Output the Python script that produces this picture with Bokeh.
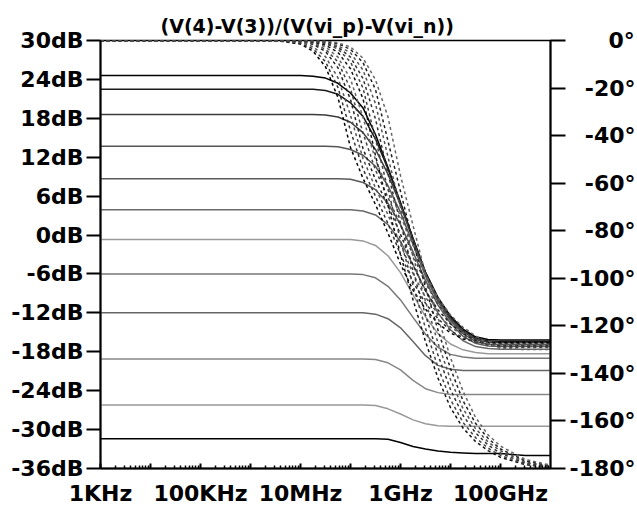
from bokeh.plotting import figure
from bokeh.models import Range1d, LinearAxis, FixedTicker, PrintfTickFormatter
from bokeh.embed import file_html
from bokeh.resources import INLINE

# ---------------- data ----------------
TITLE = "(V(4)-V(3))/(V(vi_p)-V(vi_n))"

FREQ_HZ = [1e3, 3.16e6, 1.0e7, 1.78e7, 3.16e7, 5.62e7, 1.0e8, 1.78e8, 3.16e8,
           5.62e8, 1.0e9, 1.78e9, 3.16e9, 5.62e9, 1.0e10, 1.78e10, 3.16e10,
           5.62e10, 1.0e11, 3.16e11, 1.0e12]

# magnitude traces (dB)
MAG_1 = [24.6, 24.6, 24.6, 24.5, 24.2, 23.4, 21.9, 19.6, 15.5, 10.4, 5.0, -0.5, -5.7, -9.6, -12.5, -14.5, -15.7, -16.1, -16.2, -16.2, -16.2]
MAG_2 = [22.5, 22.5, 22.5, 22.5, 22.3, 21.7, 20.4, 18.3, 14.8, 10.2, 4.9, -0.6, -5.8, -9.8, -12.7, -14.7, -15.9, -16.3, -16.4, -16.4, -16.4]
MAG_3 = [18.6, 18.6, 18.6, 18.6, 18.5, 18.2, 17.4, 15.8, 13.2, 9.4, 4.6, -0.8, -6.0, -10.0, -12.9, -14.9, -16.1, -16.5, -16.6, -16.6, -16.6]
MAG_4 = [13.7, 13.7, 13.7, 13.7, 13.7, 13.6, 13.2, 12.3, 10.6, 7.6, 3.5, -1.4, -6.3, -10.3, -13.2, -15.2, -16.4, -16.8, -16.9, -16.9, -16.9]
MAG_5 = [8.7, 8.7, 8.7, 8.7, 8.7, 8.7, 8.6, 8.1, 7.0, 4.9, 1.6, -2.6, -7.0, -10.8, -13.6, -15.6, -16.7, -17.1, -17.2, -17.2, -17.2]
MAG_6 = [3.9, 3.9, 3.9, 3.9, 3.9, 3.9, 3.9, 3.7, 3.1, 1.6, -1.0, -4.6, -8.5, -12.0, -14.6, -16.3, -17.2, -17.5, -17.6, -17.6, -17.6]
MAG_7 = [-0.7, -0.7, -0.7, -0.7, -0.7, -0.7, -0.7, -0.9, -1.6, -3.2, -5.8, -9.2, -12.6, -15.2, -16.8, -17.7, -18.1, -18.3, -18.3, -18.3, -18.3]
MAG_8 = [-6.0, -6.0, -6.0, -6.0, -6.0, -6.0, -6.0, -6.1, -6.6, -7.9, -10.0, -12.7, -15.3, -17.3, -18.4, -18.8, -19.0, -19.0, -19.0, -19.0, -19.0]
MAG_9 = [-12.0, -12.0, -12.0, -12.0, -12.0, -12.0, -12.0, -12.0, -12.2, -12.9, -14.3, -16.4, -18.6, -20.1, -20.7, -20.9, -20.9, -20.9, -20.9, -20.9, -20.9]
MAG_10 = [-19.1, -19.1, -19.1, -19.1, -19.1, -19.1, -19.1, -19.1, -19.2, -19.7, -20.8, -22.4, -23.7, -24.3, -24.6, -24.6, -24.6, -24.6, -24.6, -24.6, -24.6]
MAG_11 = [-26.2, -26.2, -26.2, -26.2, -26.2, -26.2, -26.2, -26.2, -26.3, -26.8, -27.6, -28.5, -29.1, -29.4, -29.5, -29.5, -29.5, -29.5, -29.5, -29.5, -29.5]
MAG_12 = [-31.4, -31.4, -31.4, -31.4, -31.4, -31.4, -31.4, -31.4, -31.4, -31.5, -32.0, -32.6, -33.0, -33.3, -33.5, -33.6, -33.7, -33.7, -33.7, -34.0, -34.0]

# phase traces (degrees)
PHASE_1 = [0, 0, -1.5, -4.5, -11, -24, -45, -58, -69, -81, -94, -105, -113, -119, -123, -125.5, -126.5, -127, -127, -127, -127]
PHASE_2 = [0, 0, -1.2, -3.5, -8.9, -19.8, -38, -54, -65.5, -77, -90, -101.5, -110.5, -117, -122, -125, -126.8, -127.4, -127.5, -127.5, -127.5]
PHASE_3 = [0, 0, -0.8, -2.6, -6.8, -15.7, -31.5, -49.7, -62, -73.3, -85.7, -98, -108, -115, -120.5, -124, -126.5, -127.7, -128, -128, -128]
PHASE_4 = [0, 0, -0.5, -1.6, -4.6, -11.5, -24.8, -45.5, -58.5, -69.5, -81.5, -94.5, -105.3, -113.3, -119.2, -123.2, -126, -128, -128.5, -128.5, -128.5]
PHASE_5 = [0, 0, -0.3, -1.2, -3.7, -9, -20.3, -39, -54.5, -66, -77.6, -90.4, -102, -111, -117.3, -122, -125.5, -128, -129, -129, -129]
PHASE_6 = [0, 0, -0.1, -0.9, -2.7, -7, -16.2, -32.4, -50.2, -62.4, -73.8, -86.2, -98.4, -108.2, -115.4, -120.6, -124.2, -127.5, -129.5, -130, -130]
PHASE_7 = [0, 0, -0.1, -0.6, -1.9, -5, -11.9, -24.5, -48.4, -69.4, -90, -109, -126.6, -142, -154.4, -163, -168.6, -172.5, -175.3, -178.4, -179.7]
PHASE_8 = [0, 0, 0, -0.4, -1.3, -3.6, -9, -20, -41.5, -62.6, -84, -103, -121, -137.5, -151, -160.6, -167, -171.4, -174.5, -178.1, -179.6]
PHASE_9 = [0, 0, 0, -0.2, -1, -2.8, -7, -16, -33, -56, -76.7, -97, -115.4, -132.3, -146.8, -157.7, -165, -170.1, -173.6, -177.7, -179.2]
PHASE_10 = [0, 0, 0, -0.1, -0.7, -2.2, -5.2, -12.4, -26.6, -49, -70.2, -90.8, -109.6, -127.2, -142.6, -154.8, -163.2, -168.8, -172.6, -177.3, -179]
PHASE_11 = [0, 0, 0, 0, -0.4, -1.4, -3.7, -9.3, -20.6, -42.3, -63.5, -84.6, -103.7, -121.8, -138, -151.5, -161, -167.3, -171.8, -176.8, -178.8]
PHASE_12 = [0, 0, 0, 0, -0.2, -1, -2.7, -7.4, -16.5, -32.2, -56.8, -77.8, -98.2, -116.5, -133.4, -147.5, -158.5, -165.8, -170.6, -176.2, -178.6]

DB_TICKS = [-36, -30, -24, -18, -12, -6, 0, 6, 12, 18, 24, 30]
DEG_TICKS = [-180, -160, -140, -120, -100, -80, -60, -40, -20, 0]
FREQ_TICKS = [1000, 10000, 100000, 1000000, 10000000, 100000000,
              1000000000, 10000000000, 100000000000]
FREQ_LABELS = ["1KHz", "", "100KHz", "", "10MHz", "", "1GHz", "", "100GHz"]

MAG_TRACES = [MAG_1, MAG_2, MAG_3, MAG_4, MAG_5, MAG_6,
              MAG_7, MAG_8, MAG_9, MAG_10, MAG_11, MAG_12]
PHASE_TRACES = [PHASE_1, PHASE_2, PHASE_3, PHASE_4, PHASE_5, PHASE_6,
                PHASE_7, PHASE_8, PHASE_9, PHASE_10, PHASE_11, PHASE_12]

# ---------------- styling ----------------
MAG_COLORS = ["#000000", "#1a1a1a", "#3c3c3c", "#555555", "#5a5a5a", "#6a6a6a",
              "#9a9a9a", "#777777", "#666666", "#888888", "#999999", "#000000"]
PHASE_COLORS = ["#000000", "#333333", "#555555", "#222222", "#444444", "#666666",
                "#111111", "#444444", "#333333", "#555555", "#222222", "#666666"]
FONT = "DejaVu Sans"
LABEL_SIZE = "22px"

p = figure(frame_width=450, frame_height=428,
           x_axis_type="log", x_range=Range1d(1e3, 1e12), y_range=Range1d(-36, 30),
           output_backend="svg", toolbar_location=None,
           min_border_left=100, min_border_right=83, min_border_top=40, min_border_bottom=38)
p.extra_y_ranges = {"phase": Range1d(-180, 0)}

p.xgrid.visible = False
p.ygrid.visible = False
p.background_fill_color = "white"
p.border_fill_color = "white"
p.outline_line_color = "black"
p.outline_line_width = 1.5

p.title.text = TITLE
p.title.align = "left"
p.title.offset = 60
p.title.text_font = FONT
p.title.text_font_size = "19px"
p.title.text_font_style = "bold"
p.title.text_color = "black"
p.title.standoff = 7

for ys, c in zip(MAG_TRACES, MAG_COLORS):
    p.line(FREQ_HZ, ys, line_color=c, line_width=1.5)

for ys, c in zip(PHASE_TRACES, PHASE_COLORS):
    p.line(FREQ_HZ, ys, line_color=c, line_width=1.5, line_dash="3 3",
           y_range_name="phase")

# bottom axis
xa = p.xaxis[0]
minor = [m * t for t in FREQ_TICKS for m in range(2, 10)]
xa.ticker = FixedTicker(ticks=FREQ_TICKS, minor_ticks=minor)
xa.major_label_overrides = {t: lab for t, lab in zip(FREQ_TICKS, FREQ_LABELS)}
xa.major_tick_in = 5
xa.major_tick_out = 0
xa.minor_tick_in = 3
xa.minor_tick_out = 0
xa.major_tick_line_width = 2
xa.minor_tick_line_width = 1.5
xa.axis_line_width = 2
xa.major_label_standoff = 12

# left axis
ya = p.yaxis[0]
ya.ticker = FixedTicker(ticks=DB_TICKS, minor_ticks=[])
ya.formatter = PrintfTickFormatter(format="%ddB")
ya.major_tick_in = 0
ya.major_tick_out = 14
ya.minor_tick_in = 0
ya.minor_tick_out = 0
ya.major_tick_line_width = 2
ya.axis_line_width = 2
ya.major_label_standoff = 3

# right axis (phase), labels padded with figure spaces so they line up on the right
right_labels = {}
for d in DEG_TICKS:
    s = f"{d}°"
    if d == 0:
        s = "\u2007\u2007\u2008" + s
    elif abs(d) < 100:
        s = "\u2007" + s
    right_labels[d] = s
ra = LinearAxis(y_range_name="phase",
                ticker=FixedTicker(ticks=DEG_TICKS, minor_ticks=[]),
                major_label_overrides=right_labels)
ra.major_tick_in = 0
ra.major_tick_out = 15
ra.minor_tick_in = 0
ra.minor_tick_out = 0
ra.major_tick_line_width = 2
ra.axis_line_width = 2
ra.major_label_standoff = 4
p.add_layout(ra, "right")

for ax in (xa, ya, ra):
    ax.major_label_text_font = FONT
    ax.major_label_text_font_style = "bold"
    ax.major_label_text_font_size = LABEL_SIZE
    ax.major_label_text_color = "black"
    ax.axis_line_color = "black"
    ax.major_tick_line_color = "black"
    ax.minor_tick_line_color = "black"

open("out.html", "w").write(file_html(p, INLINE))
